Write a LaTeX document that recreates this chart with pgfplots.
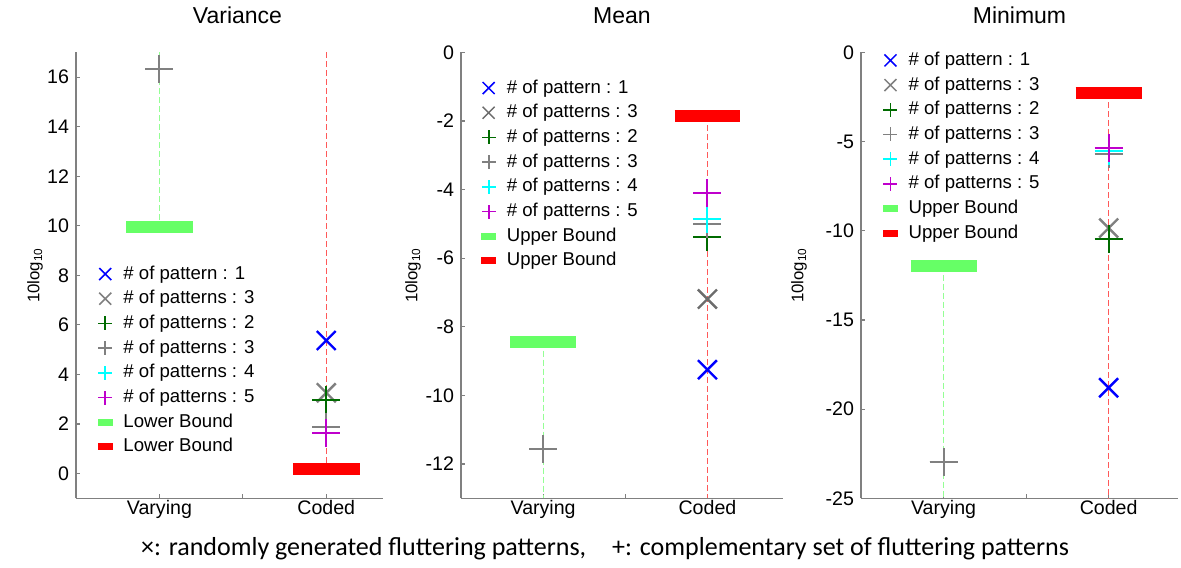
\documentclass[border=0pt]{standalone}
\usepackage{fontspec}
\setmainfont{Liberation Sans}
\newfontfamily\capfont{Carlito}
\usepackage{pgfplots}
\pgfplotsset{compat=1.18}

\definecolor{myblue}{rgb}{0,0,1}
\definecolor{mygray}{rgb}{0.5,0.5,0.5}
\definecolor{mygreen}{rgb}{0,0.42,0}
\definecolor{mycyan}{rgb}{0,1,1}
\definecolor{mymag}{rgb}{0.75,0,0.8}
\definecolor{lbgreen}{rgb}{0.4,1,0.4}
\definecolor{lbred}{rgb}{1,0,0}
\definecolor{axgray}{rgb}{0.5,0.5,0.5}

\pgfplotsset{
 panel/.style={
   scale only axis, height=223pt,
   axis x line*=bottom, axis y line*=left,
   axis line style={draw=axgray, line width=0.7pt},
   every tick/.style={draw=axgray, line width=0.6pt},
   tick align=inside, major tick length=2pt,
   xtick={1,1.5,2}, xticklabels={Varying,,Coded}, xmin=0.5,
   tick label style={font=\fontsize{9.8}{11}\selectfont},
   xticklabel style={yshift=2.5pt},
   /pgf/number format/assume math mode=true,
   ylabel={10log\textsubscript{10}},
   title style={font=\fontsize{11.5}{13}\selectfont, at={(axis description cs:0.5,1)}, anchor=base, yshift=8.5pt},
   legend style={draw=none, fill=none, font=\fontsize{9.3}{11}\selectfont, anchor=north west, inner sep=0pt,
      nodes={inner sep=0pt, text height=7pt, text depth=2pt, anchor=west}, row sep=3.35pt, column sep=4.5pt},
   legend cell align=left,
   clip=false,
 },
 xm/.style={only marks, mark=x, mark size=6.7pt, line width=1.2pt, color=#1, mark options={solid, draw=#1},
   legend image code/.code={\path (0pt,0pt) (8pt,0pt);
     \draw[draw=#1, line width=0.75pt, solid] (1pt,-3pt) -- (7pt,3pt) (1pt,3pt) -- (7pt,-3pt);}},
 pm/.style={only marks, mark=+, mark size=7pt, line width=1pt, color=#1, mark options={solid, draw=#1},
   legend image code/.code={\path (0pt,0pt) (8pt,0pt);
     \fill[fill=#1, draw=none] (0.5pt,-0.45pt) rectangle (7.5pt,0.45pt);
     \fill[fill=#1, draw=none] (3.55pt,-3.5pt) rectangle (4.45pt,3.5pt);}},
 bnd/.style={no marks, line width=6pt, color=#1,
   legend image code/.code={\fill[fill=#1, draw=none, line width=0pt] (0.25pt,-1.75pt) rectangle (7.75pt,1.75pt);}},
 dsh/.style={forget plot, no marks, line width=0.5pt, color=#1, dash pattern=on 3pt off 1.5pt},
}

\begin{document}
\begin{tikzpicture}
\path (0,0) rectangle (590.5pt,280pt);

% ---------------- Variance ----------------
\begin{axis}[panel, at={(38pt,34.5pt)}, anchor=south west, width=153.5pt,
  xmax=2.34, ymin=-1, ymax=17, ytick={0,2,...,16}, title={Variance},
  title style={xshift=4pt},
  ylabel style={at={(axis description cs:-0.1336,0.5)}, anchor=center, font=\fontsize{8.4}{10}\selectfont},
  legend style={at={(axis description cs:0.064,0.524)}}]
\addplot[dsh=lbgreen!70] coordinates {(1,17) (1,9.94)};
\addplot[dsh=lbred!65] coordinates {(2,17) (2,0.2)};
\addplot[xm=myblue] coordinates {(2,5.37)};
\addlegendentry{\# of pattern : 1}
\addplot[xm=mygray] coordinates {(2,3.26)};
\addlegendentry{\# of patterns : 3}
\addplot[pm=mygreen] coordinates {(1,16.32) (2,2.97)};
\addlegendentry{\# of patterns : 2}
\addplot[pm=mygray] coordinates {(1,16.32) (2,1.89)};
\addlegendentry{\# of patterns : 3}
\addplot[pm=mycyan] coordinates {(2,1.65)};
\addlegendentry{\# of patterns : 4}
\addplot[pm=mymag] coordinates {(2,1.63)};
\addlegendentry{\# of patterns : 5}
\addplot[bnd=lbgreen] coordinates {(0.8,9.94) (1.2,9.94)};
\addlegendentry{Lower Bound}
\addplot[bnd=lbred] coordinates {(1.8,0.2) (2.2,0.2)};
\addlegendentry{Lower Bound}
\end{axis}

% ---------------- Mean ----------------
\begin{axis}[panel, at={(230.5pt,34.5pt)}, anchor=south west, width=161pt,
  xmax=2.46, ymin=-13, ymax=0, ytick={-12,-10,...,0}, title={Mean},
  ylabel style={at={(axis description cs:-0.149,0.5)}, anchor=center, font=\fontsize{8.4}{10}\selectfont},
  legend style={at={(axis description cs:0.056,0.941)}}]
\addplot[dsh=lbgreen!70] coordinates {(1,-8.43) (1,-13)};
\addplot[dsh=lbred!65] coordinates {(2,-1.86) (2,-13)};
\addplot[xm=myblue] coordinates {(2,-9.25)};
\addlegendentry{\# of pattern : 1}
\addplot[xm=mygray!85!black] coordinates {(2,-7.19)};
\addlegendentry{\# of patterns : 3}
\addplot[pm=mygreen] coordinates {(1,-11.56) (2,-5.38)};
\addlegendentry{\# of patterns : 2}
\addplot[pm=mygray] coordinates {(1,-11.56) (2,-4.99)};
\addlegendentry{\# of patterns : 3}
\addplot[pm=mycyan] coordinates {(2,-4.86)};
\addlegendentry{\# of patterns : 4}
\addplot[pm=mymag] coordinates {(2,-4.11)};
\addlegendentry{\# of patterns : 5}
\addplot[bnd=lbgreen] coordinates {(0.8,-8.43) (1.2,-8.43)};
\addlegendentry{Upper Bound}
\addplot[bnd=lbred] coordinates {(1.8,-1.86) (2.2,-1.86)};
\addlegendentry{Upper Bound}
\end{axis}

% ---------------- Minimum ----------------
\begin{axis}[panel, at={(430.5pt,34.5pt)}, anchor=south west, width=158.5pt,
  xmax=2.42, ymin=-25, ymax=0, ytick={-25,-20,...,0}, title={Minimum},
  ylabel style={at={(axis description cs:-0.1956,0.5)}, anchor=center, font=\fontsize{8.4}{10}\selectfont},
  legend style={at={(axis description cs:0.0625,1.003)}}]
\addplot[dsh=lbgreen!70] coordinates {(1,-11.97) (1,-25)};
\addplot[dsh=lbred!65] coordinates {(2,-2.28) (2,-25)};
\addplot[xm=myblue] coordinates {(2,-18.8)};
\addlegendentry{\# of pattern : 1}
\addplot[xm=mygray] coordinates {(2,-9.85)};
\addlegendentry{\# of patterns : 3}
\addplot[pm=mygreen] coordinates {(1,-22.98) (2,-10.44)};
\addlegendentry{\# of patterns : 2}
\addplot[pm=mygray] coordinates {(1,-22.98) (2,-5.68)};
\addlegendentry{\# of patterns : 3}
\addplot[pm=mycyan] coordinates {(2,-5.51)};
\addlegendentry{\# of patterns : 4}
\addplot[pm=mymag] coordinates {(2,-5.36)};
\addlegendentry{\# of patterns : 5}
\addplot[bnd=lbgreen] coordinates {(0.8,-11.97) (1.2,-11.97)};
\addlegendentry{Upper Bound}
\addplot[bnd=lbred] coordinates {(1.8,-2.28) (2.2,-2.28)};
\addlegendentry{Upper Bound}
\end{axis}

\node[font=\capfont\fontsize{13}{15}\selectfont, inner sep=0pt] at (302.5pt,9.5pt)
  {×: randomly generated fluttering patterns,\quad +: complementary set of fluttering patterns};
\end{tikzpicture}
\end{document}
